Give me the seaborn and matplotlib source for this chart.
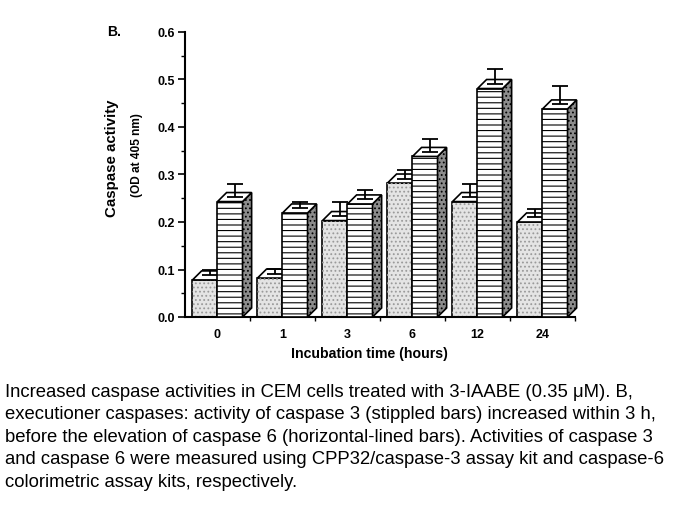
import matplotlib
matplotlib.use("Agg")
import matplotlib.pyplot as plt
from matplotlib.patches import Polygon, Rectangle
from matplotlib.ticker import MultipleLocator, FormatStrFormatter, FixedLocator
import numpy as np
import pandas as pd
import seaborn as sns

times = ["0", "1", "3", "6", "12", "24"]
casp3 = [0.078, 0.082, 0.203, 0.282, 0.243, 0.200]
casp3_err = [0.012, 0.009, 0.030, 0.018, 0.027, 0.017]
casp6 = [0.243, 0.219, 0.238, 0.338, 0.481, 0.438]
casp6_err = [0.027, 0.014, 0.019, 0.027, 0.031, 0.039]
enzymes = ["Caspase 3", "Caspase 6"]

caption = [
    "Increased caspase activities in CEM cells treated with 3-IAABE (0.35 \u03bcM). B,",
    "executioner caspases: activity of caspase 3 (stippled bars) increased within 3 h,",
    "before the elevation of caspase 6 (horizontal-lined bars). Activities of caspase 3",
    "and caspase 6 were measured using CPP32/caspase-3 assay kit and caspase-6",
    "colorimetric assay kits, respectively.",
]

df = pd.DataFrame({
    "time": times * 2,
    "activity": casp3 + casp6,
    "err": casp3_err + casp6_err,
    "enzyme": [enzymes[0]] * len(times) + [enzymes[1]] * len(times),
})

sns.set_style("white")
plt.rcParams["font.family"] = ["Liberation Sans", "DejaVu Sans"]
plt.rcParams["hatch.linewidth"] = 0.8
for k in ["text.color", "axes.labelcolor", "xtick.color", "ytick.color"]:
    plt.rcParams[k] = "black"

W, H = 680, 510
fig = plt.figure(figsize=(W / 100, H / 100), dpi=100)
ax = fig.add_axes([185 / W, 1 - 318 / H, 390 / W, 285 / H])

sns.barplot(data=df, x="time", y="activity", hue="enzyme", order=times,
            hue_order=enzymes, width=0.77, palette=["#e4e4e4", "white"],
            edgecolor="black", linewidth=1.2, errorbar=None, legend=False, ax=ax)

dx, dy = 0.14, 0.019
bars = ax.patches[:]
for i, p in enumerate(bars):
    x0, w, h = p.get_x(), p.get_width(), p.get_height()
    x1 = x0 + w
    front = i >= len(times)
    z = 3 if front else 1
    p.set_zorder(z)
    if not front:
        # stipple on caspase 3
        ax.add_patch(Rectangle((x0, 0), w, h, facecolor="none", edgecolor="#9a9a9a",
                               hatch="....", linewidth=0, zorder=z + 0.1))
        p.set_facecolor("none")
        ax.add_patch(Rectangle((x0, 0), w, h, facecolor="#e4e4e4", linewidth=0, zorder=z - 0.1))
    else:
        p.set_hatch("---")
        side = Polygon([(x1, 0), (x1 + dx, dy), (x1 + dx, h + dy), (x1, h)], closed=True,
                       facecolor="#8c8c8c", edgecolor="black", linewidth=1.2,
                       hatch="....", zorder=z, clip_on=False)
        ax.add_patch(side)
    top = Polygon([(x0, h), (x1, h), (x1 + dx, h + dy), (x0 + dx, h + dy)], closed=True,
                  facecolor="white", edgecolor="black", linewidth=1.2, zorder=z, clip_on=False)
    ax.add_patch(top)
    err = df["err"].iloc[i]
    ax.errorbar(x0 + w / 2 + dx / 2, h + dy / 2, yerr=[[0], [err]], fmt="none",
                ecolor="black", elinewidth=1.3, capsize=6, capthick=1.3, zorder=z + 0.5)

ax.set_xlim(-0.5, 5.5)
ax.set_ylim(0, 0.6)
ax.yaxis.set_major_locator(MultipleLocator(0.1))
ax.yaxis.set_minor_locator(MultipleLocator(0.05))
ax.yaxis.set_major_formatter(FormatStrFormatter("%.1f"))
ax.xaxis.set_minor_locator(FixedLocator(np.arange(0.5, 6, 1.0)))
ax.tick_params(axis="y", which="major", direction="out", length=5, width=1.2,
               labelsize=9, left=True, pad=2)
ax.tick_params(axis="y", which="minor", direction="out", length=3, width=1.0, left=True)
ax.tick_params(axis="x", which="major", length=0, labelsize=9, pad=8)
ax.tick_params(axis="x", which="minor", direction="out", length=3, width=1.0, bottom=True)
for lab in ax.get_xticklabels() + ax.get_yticklabels():
    lab.set_fontweight("bold")
for s in ["top", "right"]:
    ax.spines[s].set_visible(False)
for s in ["left", "bottom"]:
    ax.spines[s].set_color("black")
    ax.spines[s].set_linewidth(1.5)
ax.set_xlabel("")
ax.set_ylabel("")
ax.grid(False)

fig.text(369 / W, 1 - 354 / H, "Incubation time (hours)", ha="center", va="center",
         fontsize=10.2, fontweight="bold")
fig.text(112 / W, 1 - 158 / H, "Caspase activity", ha="center", va="center",
         rotation=90, fontsize=10.8, fontweight="bold")
fig.text(137 / W, 1 - 155 / H, "(OD at 405 nm)", ha="center", va="center",
         rotation=90, fontsize=8.6, fontweight="bold")
fig.text(107 / W, 1 - 32 / H, "B.", ha="left", va="center", fontsize=10, fontweight="bold")

baselines = [397, 419.5, 442, 464.5, 487]
for line, yb in zip(caption, baselines):
    fig.text(5 / W, 1 - yb / H, line, ha="left", va="baseline", fontsize=13.3, color="black")

fig.savefig("out.png", dpi=100)
